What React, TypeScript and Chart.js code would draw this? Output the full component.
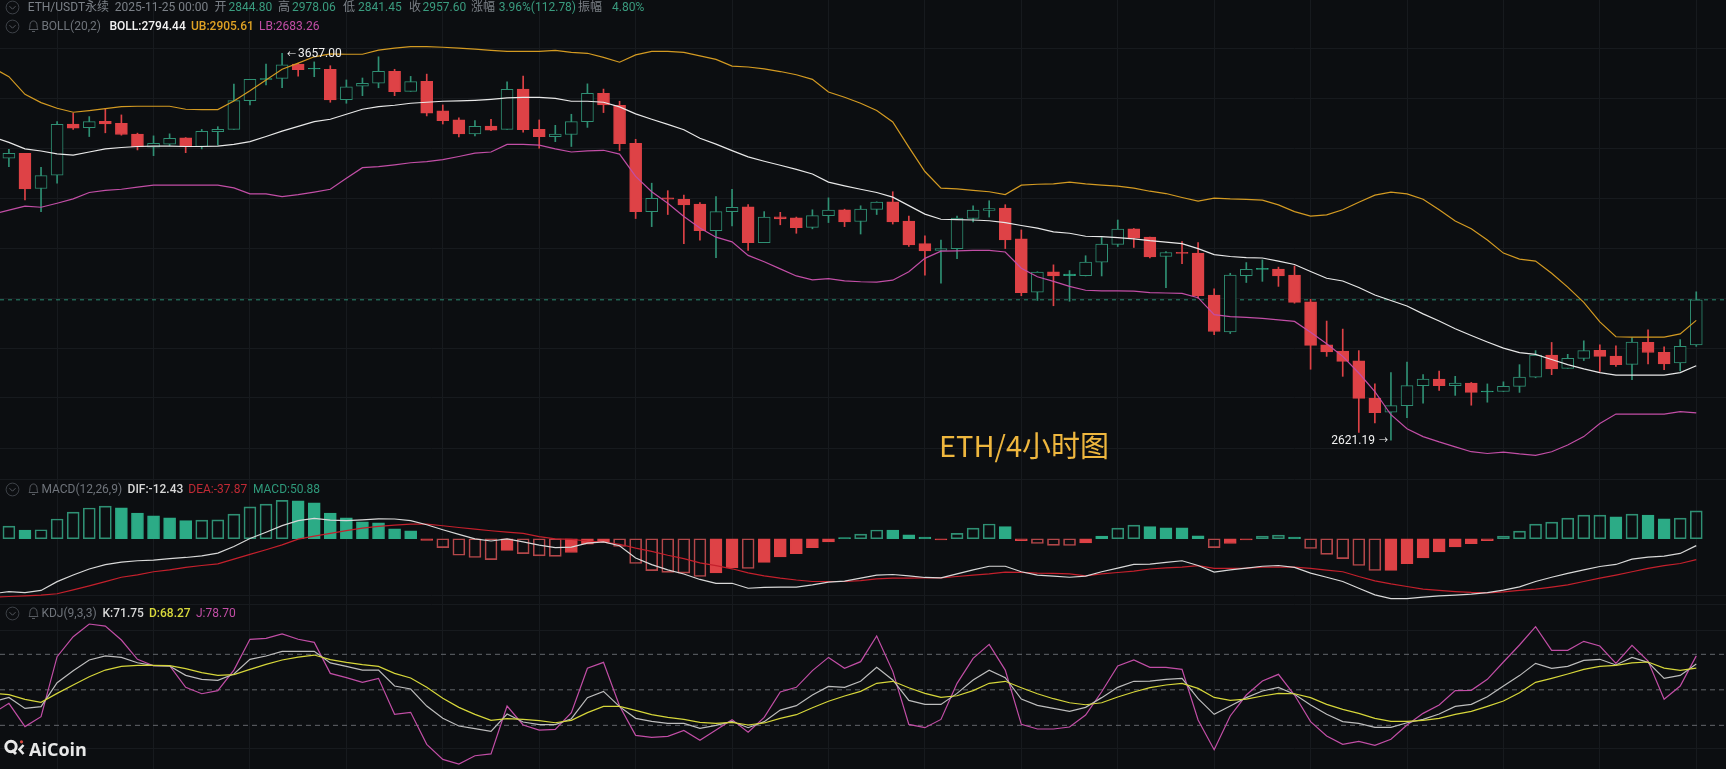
import React, { useEffect, useRef } from "react";
import { Chart, registerables } from "chart.js";

Chart.register(...registerables);

// ---------- candles (ETH/USDT, 4h) ----------
const opens = [3341,3355,3255,3293,3441,3430,3449,3443,3411,3373,3382,3400,3375,3418,3425,3511,3576,3579,3623.5,3608,3607,3514,3555,3564,3601,3539,3570,3480,3453,3412,3435,3425,3546,3425,3404,3410,3448,3533,3497,3384.5,3191,3229,3225,3212,3139,3191,3204,3107,3177,3174,3148,3180,3196,3164,3197,3218,3165,3104,3086,3091,3172,3194,3201,3117,2977,3030,3020,3020,3055,3102,3144,3122,3070,3081,3079,2969.6,2877,3020,3036,3037,3021,2952.5,2845,2830,2806,2717.8,2685,2700,2747,2762.5,2747,2753,2732,2733,2745,2767,2820,2788,2812,2832,2818,2797.5,2851,2827,2801,2844.8];
const closes = [3355.5,3254,3291.5,3440,3429,3448,3441,3410,3374,3384.5,3399,3374,3419.6,3425,3511,3576,3578,3621,3606,3610,3513,3553,3564,3601,3538,3569,3473,3451,3412,3434,3423,3545.4,3424,3404,3411,3448,3533,3498,3383,3191,3228,3225,3209.5,3139,3191,3203,3107,3176,3171,3147,3180,3195,3163,3198,3217,3163,3101,3085,3091,3173,3195,3199,3114,2976,3029,3019,3024,3055,3103,3143,3119,3069,3080.5,3078,2968,2878,3021,3036,3039,3019,2951,2844,2828,2805,2717,2684,2700,2747,2762.5,2747,2753,2731,2734,2745,2767,2820,2787,2812,2831,2817,2797,2852,2826.5,2799,2841.7,2957.6];
const highs = [3367,3355,3315,3448,3473,3463,3486,3468,3414,3406,3412,3401,3425,3433,3561.6,3576,3623.5,3657,3625.7,3630,3618,3574,3580,3646,3607,3585,3592,3498,3459,3451,3455,3568,3586,3453,3437,3470,3562,3546,3509,3396,3270,3249,3237,3216,3232.5,3253,3210,3191,3189,3176,3196,3229,3197.6,3207,3218,3246,3179,3125,3114,3179,3207,3221,3210,3141,3030,3048,3033,3072,3120.5,3168,3145,3122,3083,3110,3107,2986,3026,3054,3061,3042,3045,2959,2904,2884,2831,2751,2778,2803,2773,2781.6,2769,2754.5,2751,2756,2797,2831,2851,2822,2855,2845,2843,2863,2882,2840,2858,2978.06];
const lows = [3317,3223,3191,3270,3425,3404,3415,3408,3365,3348.5,3377.5,3357,3368,3379,3425,3498,3558.6,3550,3586,3584,3506,3503,3526,3550,3526,3539,3465,3441,3403,3406,3421,3425,3416.6,3370,3389,3375,3431,3475,3363,3172,3150,3183,3104,3113.5,3067,3152,3086,3107,3155,3132,3144,3161,3150,3130,3183,3157,3096.5,3021,3000,3064.5,3163,3176,3091,2968,2956,2942.5,2954,3019,3019,3096.5,3094,3066,2989,3051,2962,2870,2873,3002,3005,2992,2949,2786,2817,2769,2638.5,2660,2621.19,2672,2706,2735.6,2724,2701,2708,2733,2731,2765.6,2773,2788,2807,2781,2793,2761,2799,2785,2782,2841.45];

// ---------- BOLL(20,2): the first entry belongs to the bar just left of the view ----------
const bollUpper = [3612,3584,3530,3505,3488,3476,3481,3487,3493,3494,3494,3494,3485,3484,3484,3510,3541,3574,3607,3626,3646,3655,3654,3654,3667,3673,3678,3678,3676,3673,3670,3666,3663,3663,3663,3666,3660,3657,3644,3629,3652,3663,3663,3660,3649,3638,3617,3614,3608,3600,3590,3576,3537,3521,3503,3481,3447,3373,3303,3256,3254,3250,3246,3238,3264.5,3267,3268,3273,3268,3264.5,3261.6,3256,3247.5,3241,3230,3220,3228,3226,3225,3222.5,3209.5,3191,3178.5,3182,3196,3217,3236.5,3245,3240,3225,3196,3165,3144,3114,3079,3063,3058,3026,2990,2951,2902,2865,2864,2864,2864,2872,2905.61];
const bollMid = [3403,3387,3368,3362,3353.5,3350,3359,3368,3372,3375,3376,3376,3375,3375,3376,3381,3389,3404,3420,3434,3448,3455,3470,3485,3493,3497,3503,3506,3509,3510,3512,3515,3519,3521,3521,3518,3509,3509,3506,3492,3471,3455,3440,3424,3399,3382,3363,3345,3332.5,3321,3309,3296,3273,3262.5,3253,3244,3231,3207.5,3184,3170,3169,3168,3166,3161,3153,3146,3136,3132,3124,3123,3120.5,3117,3112,3108,3104,3091,3075,3070,3067,3066,3058,3049,3030.5,3013,3006,2989,2970,2956,2942,2922,2904,2885,2868,2852,2837,2826,2822,2809.5,2797,2787,2778,2772,2772,2772,2772,2778,2794.44];
const bollLower = [3184.5,3195,3206,3203,3214,3226,3244,3250,3253,3259,3264.5,3264.5,3264.5,3264.5,3264.5,3257,3240,3240,3232.5,3238,3245,3253,3284,3314,3317,3322,3328,3331.5,3337,3346,3355.5,3359,3381,3381,3379,3368,3359,3362,3364,3353,3289,3246,3214,3177.5,3146,3121.5,3109,3073,3056,3037.5,3019,3009,3012,3006,3004,3003,3008,3030,3065,3084,3085,3086,3086,3082,3039,3017,3005,2992,2982,2980.5,2980.5,2980,2976,2975,2974,2963,2920,2915,2913,2910.5,2907,2903,2876,2848,2817,2777,2733,2679,2647,2629,2617,2606,2595,2591,2594,2590,2587,2595,2610,2629,2659,2680.5,2680.5,2680.5,2680.5,2686,2683.26];

const priceGrid = [3672.7,3518,3370,3228,3092,2962,2837,2718,2603];
const lastClose = 2957.6;
const highestPrice = 3657;
const highestBar = 17;
const lowestPrice = 2621.19;
const lowestBar = 86;

// ---------- MACD(12,26,9) ----------
const macdHist = [23,16,16.5,36,48.6,56,59.5,56.5,47,42,38,33,34,34.5,45,58,63,70,69,65.5,47,38,31,29,18,14.5,-3,-16,-30,-34,-38,-21,-27,-31,-32,-25,-10,-5.5,-14,-45,-58,-61,-62.5,-68.6,-62,-53,-54,-43,-33,-27,-16,-5.5,2,8.5,16,15.8,7.3,3,-2,10,19.4,27,22,-3.6,-8.5,-12,-12.2,-7.3,5,19.4,25,22,20,19.9,5.5,-16,-8.5,-2,5,6.7,3,-17.6,-28.5,-36,-48.6,-57.7,-57.6,-45.5,-34.6,-23.7,-14.6,-9,-3.6,5,14,26.7,30.4,37.6,43,43.1,40,45,43,36.4,37.6,50.88];
const macdDif = [-100,-96,-98,-94,-78,-66,-55,-47,-42.5,-40,-39,-36,-34,-31,-26,-14,0.6,12,24,33,37,34,33,34.6,36.4,36,33,25.5,16.4,8,0,-4,0,-5.5,-11.5,-16,-15,-8,-5.5,-12.7,-35,-47,-56.5,-64,-74,-81,-81,-90,-88.6,-88,-88,-84,-79,-77,-71.6,-66,-65,-67.4,-70.4,-71,-64,-56.5,-50,-50,-60,-66,-68,-70,-68,-60,-53.4,-46.7,-46,-43,-40,-48.6,-60.7,-56.5,-53.4,-50,-48.6,-52,-62.5,-70,-77.7,-90,-102,-109,-109,-106,-104,-102.6,-100.8,-98,-93.5,-87.4,-77.7,-70,-63,-56.5,-50.4,-46.7,-37,-33.4,-31.6,-26.7,-12.43];
const macdDea = [-106,-105,-104,-102.6,-100,-93,-85.6,-78,-70,-65.6,-60,-56.5,-52,-48.6,-45.5,-37,-28.5,-20,-11,-0.6,5,10,15,19.4,22.5,25,26.7,26.7,23.7,20.6,17.6,14.6,12,9.7,4,0,-1.2,-4,-6,-10,-17,-23,-30,-36,-43.7,-49,-54.6,-62,-67.4,-71.6,-75,-77.7,-77.7,-77.7,-76,-73,-71.6,-71.6,-71,-71,-68.6,-66,-64,-60.7,-61.3,-62.5,-63,-64,-67.4,-64,-61.3,-59,-55,-53,-51.6,-49,-54,-54,-53.4,-51.6,-51.6,-51.6,-54,-57,-60,-68.6,-76.5,-82,-86.8,-91.7,-94,-96,-97.7,-98.3,-96.5,-94,-91.7,-88,-83.8,-77.7,-71.6,-66,-60,-54,-49,-45,-37.87];
const macdGrid = [107,-102.6];

// ---------- KDJ(9,3,3) ----------
const kdjK = [40,43.6,34.3,35.8,56,66.2,75.2,78.6,77.4,72.9,70.4,70.1,62.2,58.9,58,63.4,75.8,78.6,82.5,82.5,82.5,72.7,69.8,66.7,66.7,53.2,50.7,36.3,25.9,19.4,17.2,14.9,29.6,22.8,20.6,20.6,25.6,43.4,48.7,35.8,25.9,23.4,21.7,21.7,17.4,20,23.4,18,23.1,32.9,36.6,45.6,52.9,52.1,57.2,69,58.3,41.1,37.7,37.7,47,58.3,66.5,60.3,42.2,36.9,34.3,31.8,35.2,43.4,52.1,57.2,57.4,58.9,59.7,42.5,29.3,36.3,43.4,49,52.1,46.2,37.2,29.3,23.1,21.7,18.3,18.3,22.2,25,29.6,36,37.7,44.2,53.2,62,72.4,68.2,69.8,74.9,75.8,71,77.4,73.2,59.7,62.2,71.75];
const kdjD = [47,45.9,42,39.4,47,54.1,61.1,66.7,69.8,70.7,70.7,70.4,67.9,64.5,62.2,62.8,67.3,71.5,75.2,77.7,79.4,75.5,73.2,71.3,69.8,63.9,60,52.1,42.8,35.2,29.3,24.2,25.6,25,23.9,22.2,24.2,30.7,36,36,32.6,29,26.7,25,22.5,21.7,22.5,20.3,22,25.9,29,34.9,40.3,44.8,48.7,55.5,57.2,51.8,47,43.6,45,49.3,55.5,57.2,51.8,46.7,42.5,39.1,37.4,39.1,43.9,48.2,51.8,54.1,55.5,51.2,43.6,41.1,42.2,44.8,47,46.7,43.4,37.7,33.5,30.1,25.9,23.4,23.4,24.2,25.9,29.3,31.8,36,40.5,47.6,56.3,59.7,63.4,67.3,69.8,70.7,72.7,73.5,68.4,66.5,68.27];
const kdjJ = [30.1,38.6,18.9,27.3,78,94.9,105.6,103.9,92.1,75.8,70.4,70.4,52.1,46.7,49.3,66.7,92.7,93.5,97.2,92.7,90.1,63.9,60.3,56.3,59.7,29.3,31,3.9,-8.8,-12.7,-5.7,-4.2,36.3,20.3,16,16.6,30.7,68.2,73.2,36.3,11.5,9.8,10.7,15.7,7.3,16,24.8,14.1,26.7,48.2,52.1,66.2,77.4,68.2,73.8,95.5,65.6,20.8,18,25,55.5,76.6,88.4,66.7,20.8,16.9,16.9,18.6,28.7,48.4,70.1,75.2,69,69,67.3,24.5,-0.6,27.9,45.6,57.4,63.1,45.6,23.1,11,3.9,6.5,3.1,8.2,20.3,30.1,37.2,49.3,49.6,58.9,73.5,87.9,103.4,83.4,83.4,91,87,72.4,87.6,74.3,42,53.2,78.7];
const kdjGrid = [122.3,100,0];
const kdjLevels = [80,50,20];

// ---------- legend rows ----------
const quoteRow = [
  ["ETH/USDT永续", 27.7, "#7b8087"],["2025-11-25 00:00", 114.7, "#7b8087"],
  ["开", 214.6, "#7b8087"],["2844.80", 228.6, "#3a9c7f"],
  ["高", 278, "#7b8087"],["2978.06", 292, "#3a9c7f"],
  ["低", 343, "#7b8087"],["2841.45", 358, "#3a9c7f"],
  ["收", 409, "#7b8087"],["2957.60", 422.5, "#3a9c7f"],
  ["涨幅", 471, "#7b8087"],["3.96%(112.78)", 498.7, "#3a9c7f"],
  ["振幅", 578, "#7b8087"],["4.80%", 612, "#3a9c7f"],
];
const bollRow = [["BOLL(20,2)", 41.4, "#6f747b"],["BOLL:2794.44", 109.5, "#f2f2f2"],["UB:2905.61", 191, "#dfa224"],["LB:2683.26", 259, "#c24ea6"]];
const macdRow = [["MACD(12,26,9)", 41.4, "#6f747b"],["DIF:-12.43", 127.6, "#d8d8d8"],["DEA:-37.87", 188.3, "#c02a35"],["MACD:50.88", 253, "#2f9a7b"]];
const kdjRow = [["KDJ(9,3,3)", 41.4, "#6f747b"],["K:71.75", 102.5, "#d8d8d8"],["D:68.27", 149, "#d9d93c"],["J:78.70", 196, "#c24ea6"]];

// ---------- style ----------
const BG = "#0c0e11";
const GRID = "#171a1e";
const RED = "#de4246";
const GREEN = "#2cab86";
const GREEN_EDGE = "#2f9074";
const RED_EDGE = "#b3474a";
const X_MIN = -0.554;
const X_MAX = 106.85;
const FONT = 'Roboto, "Noto Sans CJK SC", sans-serif';

const bars = opens.map((_, i) => i);
const gridBars = bars.filter((i) => i % 6 === 3);
const seriesPoints = (vals: number[]) => vals.map((y, i) => ({ x: i - 1, y }));
const flatLine = (y: number) => [{ x: X_MIN, y }, { x: X_MAX, y }];

function line(data: any[], color: string, width = 1.2, dash: number[] = [], order = 0) {
  return { type: "line", data, borderColor: color, borderWidth: width, borderDash: dash, pointRadius: 0, tension: 0, order, fill: false };
}

function baseOptions(min: number, max: number, yType: string, gridVals: number[]) {
  return {
    responsive: false,
    animation: false,
    events: [],
    layout: { padding: 0 },
    plugins: { legend: { display: false }, tooltip: { enabled: false } },
    scales: {
      x: {
        type: "linear", min: X_MIN, max: X_MAX, offset: false,
        grid: { color: GRID, drawTicks: false, offset: false }, border: { display: false },
        ticks: { display: false },
        afterBuildTicks: (s: any) => { s.ticks = gridBars.map((value) => ({ value })); },
      },
      y: {
        type: yType, min, max, bounds: "data",
        grid: { color: GRID, drawTicks: false }, border: { display: false },
        ticks: { display: false },
        afterBuildTicks: (s: any) => { s.ticks = gridVals.map((value) => ({ value })); },
      },
    },
  };
}

const extremesLabels = {
  id: "extremesLabels",
  afterDatasetsDraw(chart: any) {
    const { ctx, scales } = chart;
    ctx.save();
    ctx.fillStyle = "#f0f0f0";
    ctx.textBaseline = "middle";
    const hx = scales.x.getPixelForValue(highestBar);
    const hy = scales.y.getPixelForValue(highestPrice) + 1;
    const lx = scales.x.getPixelForValue(lowestBar);
    const ly = scales.y.getPixelForValue(lowestPrice) + 1;
    ctx.textAlign = "left";
    ctx.font = "9px " + FONT;
    ctx.fillText("←", hx + 5, hy);
    ctx.font = "12px " + FONT;
    ctx.fillText(highestPrice.toFixed(2), hx + 16, hy);
    ctx.textAlign = "right";
    ctx.fillText(lowestPrice.toFixed(2), lx - 16, ly);
    ctx.font = "9px " + FONT;
    ctx.fillText("→", lx - 3, ly);
    ctx.restore();
  },
};

function Chevron({ y }: { y: number }) {
  return (
    <svg style={{ position: "absolute", left: 5, top: y - 7 }} width="16" height="15" viewBox="0 0 16 15">
      <circle cx="7.5" cy="7.5" r="6.4" fill="none" stroke="#3e4248" strokeWidth="1" />
      <path d="M4.5 6.2 L7.5 9.2 L10.5 6.2" fill="none" stroke="#54585e" strokeWidth="1" />
    </svg>
  );
}
function Bell({ y }: { y: number }) {
  return (
    <svg style={{ position: "absolute", left: 27, top: y - 7 }} width="13" height="15" viewBox="0 0 13 15">
      <path d="M2 10.5 C3 9 2.8 7.5 3 5.5 C3.3 3.2 4.8 2 6.5 2 C8.2 2 9.7 3.2 10 5.5 C10.2 7.5 10 9 11 10.5 Z" fill="none" stroke="#565a60" strokeWidth="1" />
      <path d="M5 12.5 H8" stroke="#565a60" strokeWidth="1" />
    </svg>
  );
}
function Row({ y, items, weights }: { y: number; items: any[]; weights?: number[] }) {
  return (
    <>
      {items.map(([t, x, c], i) => (
        <span key={i} style={{ position: "absolute", left: x, top: y - 8, lineHeight: "16px", fontSize: 12, fontFamily: FONT, color: c, whiteSpace: "nowrap", fontWeight: weights ? weights[i] : 400 }}>
          {t}
        </span>
      ))}
    </>
  );
}

export default function App() {
  const mainRef = useRef<HTMLCanvasElement>(null);
  const macdRef = useRef<HTMLCanvasElement>(null);
  const kdjRef = useRef<HTMLCanvasElement>(null);

  useEffect(() => {
    document.body.style.margin = "0";
    document.body.style.background = BG;
    const isUp = (c: any) => closes[c.dataIndex] >= opens[c.dataIndex];
    const isThin = (c: any) => Math.abs(closes[c.dataIndex] - opens[c.dataIndex]) < 5;
    const main = new Chart(mainRef.current as any, {
      type: "bar",
      plugins: [extremesLabels],
      data: {
        datasets: [
          line(seriesPoints(bollUpper), "#d39a22"),
          line(seriesPoints(bollMid), "#e8e8e8"),
          line(seriesPoints(bollLower), "#c24ea6"),
          line(flatLine(lastClose), "#2b8a70", 1, [4, 4], 3),
          {
            data: bars.map((i) => ({ x: i, y: [opens[i], closes[i]] })),
            barThickness: 12, grouped: false, order: 1, borderSkipped: false, borderWidth: 1,
            backgroundColor: (c: any) => (isUp(c) ? (isThin(c) ? GREEN : BG) : RED),
            borderColor: (c: any) => (isUp(c) ? (isThin(c) ? GREEN : GREEN_EDGE) : RED),
          },
          {
            data: bars.map((i) => ({ x: i, y: [lows[i], highs[i]] })),
            barThickness: 1, grouped: false, order: 2,
            backgroundColor: (c: any) => (isUp(c) ? GREEN_EDGE : RED),
          },
        ],
      },
      options: baseOptions(2543.5, 3828.7, "logarithmic", priceGrid),
    } as any);

    const hollow = (c: any) => {
      const i = c.dataIndex;
      return i === 0 || Math.abs(macdHist[i]) >= Math.abs(macdHist[i - 1]);
    };
    const macd = new Chart(macdRef.current as any, {
      type: "bar",
      data: {
        datasets: [
          line(seriesPoints(macdDif), "#d8d8d8"),
          line(seriesPoints(macdDea), "#c4202c"),
          {
            data: macdHist.map((y, i) => ({ x: i, y })),
            barThickness: 12, grouped: false, order: 1, borderSkipped: false, borderWidth: 1,
            backgroundColor: (c: any) => (hollow(c) ? "transparent" : macdHist[c.dataIndex] >= 0 ? GREEN : RED),
            borderColor: (c: any) => {
              const up = macdHist[c.dataIndex] >= 0;
              return hollow(c) ? (up ? GREEN_EDGE : RED_EDGE) : up ? GREEN : RED;
            },
          },
        ],
      },
      options: baseOptions(-111.4, 116.1, "linear", macdGrid),
    } as any);

    const kdj = new Chart(kdjRef.current as any, {
      type: "line",
      data: {
        datasets: [
          line(seriesPoints(kdjJ), "#c24ea6", 1.2, [], 2),
          line(seriesPoints(kdjK), "#bdbdbd", 1.2, [], 1),
          line(seriesPoints(kdjD), "#d6d63a", 1.2, [], 0),
          ...kdjLevels.map((v) => line(flatLine(v), "#63666b", 1, [5, 4], 5)),
        ],
      },
      options: baseOptions(-16.9, 125.9, "linear", kdjGrid),
    } as any);

    return () => {
      main.destroy();
      macd.destroy();
      kdj.destroy();
    };
  }, []);

  return (
    <div style={{ position: "absolute", left: 0, top: 0, width: 1726, height: 769, overflow: "hidden", background: BG }}>
      <canvas ref={mainRef} width={1726} height={475} style={{ position: "absolute", left: 0, top: 0, width: 1726, height: 475 }} />
      <canvas ref={macdRef} width={1726} height={125} style={{ position: "absolute", left: 0, top: 475, width: 1726, height: 125 }} />
      <canvas ref={kdjRef} width={1726} height={169} style={{ position: "absolute", left: 0, top: 600, width: 1726, height: 169 }} />

      <Chevron y={7} />
      <Row y={7} items={quoteRow} />
      <Chevron y={26} />
      <Bell y={26} />
      <Row y={25.5} items={bollRow} weights={[400, 500, 500, 400]} />
      <Chevron y={489} />
      <Bell y={489} />
      <Row y={489} items={macdRow} weights={[400, 500, 400, 400]} />
      <Chevron y={613} />
      <Bell y={613} />
      <Row y={613} items={kdjRow} weights={[400, 500, 500, 400]} />

      <div style={{ position: "absolute", left: 939, top: 427, fontSize: 29, lineHeight: "34px", fontFamily: '"Noto Sans CJK SC", sans-serif', color: "#efb73e", whiteSpace: "nowrap" }}>
        ETH/4小时图
      </div>

      <svg style={{ position: "absolute", left: 3, top: 739 }} width="24" height="18" viewBox="0 0 24 18">
        <circle cx="8" cy="7.5" r="5.2" fill="none" stroke="#e8e8e8" strokeWidth="3" />
        <path d="M9 11 L13 15" stroke="#e8e8e8" strokeWidth="3" />
        <path d="M20.5 6 L16.5 10.5 L20.5 15" fill="none" stroke="#e8e8e8" strokeWidth="2.6" />
        <circle cx="18.5" cy="2.8" r="1.6" fill="#d8483f" />
      </svg>
      <div style={{ position: "absolute", left: 29, top: 738, fontSize: 18, lineHeight: "22px", fontWeight: 700, fontFamily: '"Open Sans", Roboto, sans-serif', color: "#e8e8e8", whiteSpace: "nowrap" }}>
        AiCoin
      </div>
    </div>
  );
}
